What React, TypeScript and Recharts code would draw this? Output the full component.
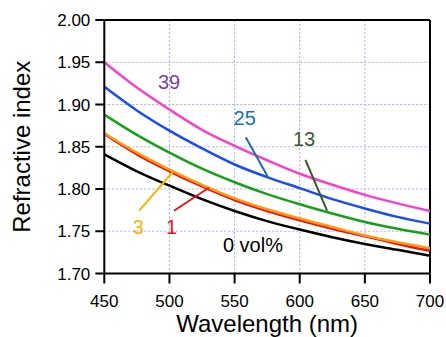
import React from 'react'
import {
    LineChart, Line, XAxis, YAxis, CartesianGrid, ReferenceLine, ReferenceDot
} from 'recharts';

// wavelength (nm)
const wavelengths = [450, 475, 500, 525, 550, 575, 600, 625, 650, 675, 700];

// refractive index per vol%
const vol0 = [1.841, 1.821, 1.804, 1.788, 1.774, 1.762, 1.752, 1.743, 1.735, 1.728, 1.721];
const vol1 = [1.865, 1.841, 1.821, 1.803, 1.787, 1.774, 1.763, 1.753, 1.744, 1.735, 1.727];
const vol3 = [1.866, 1.843, 1.823, 1.805, 1.789, 1.776, 1.765, 1.755, 1.745, 1.737, 1.730];
const vol13 = [1.888, 1.864, 1.843, 1.824, 1.808, 1.794, 1.782, 1.771, 1.761, 1.753, 1.746];
const vol25 = [1.921, 1.893, 1.869, 1.848, 1.829, 1.814, 1.801, 1.788, 1.777, 1.767, 1.759];
const vol39 = [1.950, 1.920, 1.894, 1.870, 1.851, 1.834, 1.818, 1.805, 1.793, 1.783, 1.774];

const xTicks = [450, 500, 550, 600, 650, 700];
const yTicks = [1.70, 1.75, 1.80, 1.85, 1.90, 1.95, 2.00];

// curve labels: [text, wavelength, index, colour]
const curveLabels: Array<[string, number, number, string]> = [
    ['39', 499.7, 1.9264, '#7b3fae'],
    ['25', 557.8, 1.8844, '#1a72bb'],
    ['13', 603.3, 1.8592, '#3e5a2c'],
    ['3', 476.1, 1.7554, '#f9b400'],
    ['1', 501.7, 1.7554, '#e8141c'],
    ['0 vol%', 564.1, 1.7341, '#000000'],
];

// leader lines: [x1, y1, x2, y2, colour]
const leaders: Array<[number, number, number, number, string]> = [
    [558.6, 1.8612, 575.8, 1.8135, '#1a6fb0'],
    [604.4, 1.8343, 621.0, 1.7743, '#3b5a2a'],
    [476.8, 1.7743, 502.4, 1.8198, '#f9b400'],
    [503.5, 1.7743, 530.3, 1.8015, '#e8141c'],
];

const chartData = wavelengths.map((w, i) => ({
    w,
    v0: vol0[i],
    v1: vol1[i],
    v3: vol3[i],
    v13: vol13[i],
    v25: vol25[i],
    v39: vol39[i],
}));

const series = [
    { key: 'v0', color: '#000000' },
    { key: 'v1', color: '#ee1111' },
    { key: 'v3', color: '#ff9a10' },
    { key: 'v13', color: '#16a016' },
    { key: 'v25', color: '#1a4cf2' },
    { key: 'v39', color: '#f542c8' },
];

const tickStyle = { fill: '#000', fontSize: 17 };

export default function App(): JSX.Element {
    return (
        <div style={{ position: 'absolute', left: 0, top: 0 }}>
            <LineChart
                width={446}
                height={337}
                data={chartData}
                margin={{ top: 20, right: 16, bottom: 0, left: 0 }}
                style={{ fontFamily: '"Liberation Sans", Arial, sans-serif' }}
            >
                <CartesianGrid stroke="#a9a9f0" strokeDasharray="2 2" strokeWidth={1} />
                <XAxis
                    dataKey="w"
                    type="number"
                    domain={[450, 700]}
                    ticks={xTicks}
                    height={63.5}
                    tickSize={10}
                    tickMargin={11}
                    stroke="#000"
                    strokeWidth={2}
                    tick={tickStyle}
                    label={{ value: 'Wavelength (nm)', position: 'insideBottom', offset: 5, fontSize: 24, fill: '#000' }}
                />
                <YAxis
                    type="number"
                    domain={[1.7, 2.0]}
                    ticks={yTicks}
                    width={104.3}
                    tickSize={9}
                    tickMargin={5}
                    stroke="#000"
                    strokeWidth={2}
                    tick={tickStyle}
                    tickFormatter={(v: number) => v.toFixed(2)}
                    label={{ value: 'Refractive index', angle: -90, position: 'insideLeft', offset: 21, fontSize: 24, fill: '#000', style: { textAnchor: 'middle' } }}
                />
                <ReferenceLine y={2.0} stroke="#000" strokeWidth={2} />
                <ReferenceLine x={700} stroke="#000" strokeWidth={2} />

                {series.map((s) => (
                    <Line
                        key={s.key}
                        dataKey={s.key}
                        type="monotone"
                        stroke={s.color}
                        strokeWidth={2.5}
                        dot={false}
                        isAnimationActive={false}
                    />
                ))}

                {leaders.map((l, i) => (
                    <ReferenceLine
                        key={`lead-${i}`}
                        segment={[{ x: l[0], y: l[1] }, { x: l[2], y: l[3] }]}
                        stroke={l[4]}
                        strokeWidth={2}
                    />
                ))}

                {curveLabels.map((c, i) => (
                    <ReferenceDot
                        key={`lab-${i}`}
                        x={c[1]}
                        y={c[2]}
                        r={0}
                        fill="none"
                        stroke="none"
                        label={{ value: c[0], position: 'center', fill: c[3], fontSize: 20 }}
                    />
                ))}
            </LineChart>
        </div>
    )
}
